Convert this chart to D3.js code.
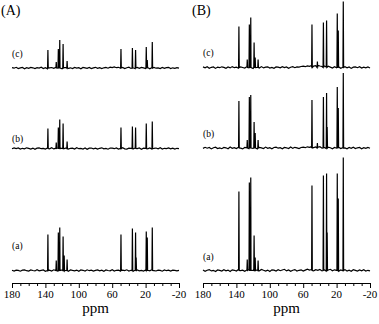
<!DOCTYPE html>
<html>
<head>
<meta charset="utf-8">
<script src="https://cdn.jsdelivr.net/npm/d3@7"></script>
<style>
  body { margin: 0; background: #fff; }
</style>
</head>
<body>
<div id="chart"></div>
<script>
// tick labels on the ppm axis
const ppmTicks = [180, 140, 100, 60, 20, -20];
const minorTicks = [180, 170, 160, 150, 140, 130, 120, 110, 100, 90, 80, 70, 60, 50, 40, 30, 20, 10, 0, -10, -20];

const panelNames = ["(A)", "(B)"];
const traceNames = ["(a)", "(b)", "(c)"];

// peak positions (ppm), shared by all traces
const peakPpm = [137, 127, 124.5, 122.8, 118.8, 117.5, 114, 49.5, 43, 35.8, 32, 31.3, 19.2, 18, 12];

// peak heights (arbitrary units), one array per trace
const peaksAa = [36, 10, 38, 43, 34, 15, 11, 36, 0, 42, 38, 13, 39, 33, 43];
const peaksAb = [20, 6, 21, 29, 25, 0, 7, 21, 0, 22, 21, 0, 25, 0, 27];
const peaksAc = [18, 6, 19, 28, 24, 0, 7, 19, 0, 20, 18, 0, 21, 8, 26];
const peaksBa = [79, 11, 88, 93, 35, 13, 10, 85, 0, 95, 97, 38, 97, 72, 113];
const peaksBb = [47, 8, 51, 53, 26, 15, 8, 48, 5, 51, 55, 21, 61, 40, 75];
const peaksBc = [41, 8, 43, 50, 25, 10, 8, 43, 6, 45, 47, 0, 54, 37, 66];

// baseline wiggle, sampled evenly from 180 to -20 ppm
const noiseAa = [0.2,-0.5,0.4,0.1,-0.7,0.3,0.6,-0.2,-0.6,0.5,0.0,-0.4,0.8,-0.3,0.2,0.5,-0.8,0.1,0.4,-0.5,
    0.7,-0.1,-0.6,0.3,0.5,-0.4,0.2,-0.7,0.6,0.1,-0.3,0.4,-0.8,0.5,0.2,-0.5,0.7,-0.2,0.3,-0.6,
    0.1,0.6,-0.4,0.3,-0.7,0.5,0.0,-0.3,0.8,-0.5,0.2,0.4,-0.6,0.3,-0.1,0.7,-0.5,0.2,-0.8,0.4,
    0.6,-0.3,0.1,-0.6,0.5,0.3,-0.4,0.7,-0.2,-0.5,0.4,0.1,-0.7,0.5,-0.2,0.3,-0.6,0.4,0.1,-0.3,0.2];
const noiseAb = [-0.3,0.5,-0.1,0.6,-0.6,0.2,-0.4,0.7,0.1,-0.5,0.4,-0.8,0.3,0.6,-0.2,0.1,-0.6,0.5,-0.3,0.8,
    -0.4,0.2,0.5,-0.7,0.3,-0.1,0.6,-0.5,0.2,0.4,-0.6,0.7,-0.2,0.1,-0.5,0.6,-0.8,0.3,0.5,-0.3,
    0.4,-0.6,0.2,0.7,-0.4,0.1,-0.7,0.5,0.3,-0.2,0.6,-0.5,0.1,0.8,-0.3,-0.6,0.4,0.2,-0.5,0.6,
    -0.1,0.5,-0.7,0.3,0.2,-0.4,0.6,-0.6,0.1,0.5,-0.3,0.7,-0.5,0.2,-0.1,0.6,-0.4,0.3,-0.6,0.2,-0.2];
const noiseAc = [0.4,-0.2,0.7,-0.5,0.1,0.5,-0.7,0.3,-0.3,0.6,0.2,-0.6,0.4,-0.1,0.8,-0.5,0.3,-0.8,0.2,0.5,
    -0.4,0.6,-0.2,0.1,-0.7,0.4,0.7,-0.3,0.2,-0.6,0.5,-0.1,0.3,-0.8,0.6,0.2,-0.4,0.5,-0.6,0.1,
    0.7,-0.3,0.4,-0.5,0.2,0.6,-0.2,0.9,0.4,1.0,0.3,0.7,-0.2,0.5,-0.6,0.3,0.8,-0.4,0.2,-0.7,
    0.5,-0.3,0.6,0.1,-0.5,0.4,-0.8,0.3,0.6,-0.2,0.1,-0.6,0.5,-0.4,0.3,0.7,-0.5,0.2,-0.3,0.4,-0.1];
const noiseBa = [0.5,-0.8,0.3,0.9,-0.4,0.2,-1.0,0.6,0.1,-0.5,0.8,-0.3,0.4,-0.9,0.7,0.2,-0.6,1.0,-0.2,0.3,
    -0.7,0.5,0.9,-0.4,0.1,-0.8,0.6,-0.3,1.1,0.2,-0.6,0.4,-0.9,0.7,0.3,-0.5,0.8,-0.2,0.5,1.2,
    -0.4,0.6,-0.8,0.3,0.9,-0.5,0.2,0.7,-0.6,0.4,1.3,0.5,1.0,-0.3,0.8,0.2,1.1,-0.4,0.9,-0.6,
    0.5,1.2,-0.3,0.7,0.2,-0.8,0.6,-0.2,0.9,-0.5,0.3,-0.7,0.8,0.1,-0.6,0.5,-0.3,0.7,-0.5,0.2,-0.4];
const noiseBb = [-0.4,0.7,-0.2,0.5,-0.9,0.3,0.8,-0.5,0.1,-0.7,0.6,0.2,-0.8,0.9,-0.3,0.4,-0.6,0.7,-0.1,-0.9,
    0.5,0.2,-0.6,0.8,-0.4,0.3,-1.0,0.6,0.1,-0.5,0.9,-0.3,0.4,-0.7,0.5,0.8,-0.2,0.3,-0.8,0.6,
    0.2,-0.5,1.0,-0.4,0.7,0.1,-0.6,0.5,0.9,0.3,1.2,0.6,1.4,0.4,1.0,0.8,1.3,-0.2,0.7,-0.5,
    0.9,0.3,-0.7,0.6,-0.2,0.8,-0.6,0.4,0.1,-0.8,0.5,-0.3,0.7,-0.5,0.2,0.6,-0.7,0.3,-0.4,0.5,-0.2];
const noiseBc = [0.6,-0.3,0.8,-0.7,0.2,0.5,-0.9,0.4,-0.2,0.7,0.1,-0.8,0.5,-0.4,0.9,-0.2,0.3,-0.7,0.6,0.0,
    -0.6,0.8,-0.3,0.4,-1.0,0.5,0.2,-0.6,0.9,-0.4,0.3,0.7,-0.5,0.1,-0.8,0.6,0.4,-0.3,0.8,-0.1,
    0.5,-0.7,0.3,0.9,-0.2,0.6,0.4,1.0,1.3,0.8,1.6,1.2,2.0,1.4,1.8,2.2,1.5,1.0,1.7,0.6,
    1.2,0.4,-0.5,0.8,-0.3,0.6,-0.8,0.2,0.7,-0.4,0.5,-0.9,0.3,0.6,-0.2,0.8,-0.6,0.4,-0.3,0.5,-0.5];

const width = 379, height = 324;
const serif = "DejaVu Serif";
const svg = d3.select("#chart").append("svg")
    .attr("width", width)
    .attr("height", height)
    .style("font-family", "'Liberation Serif', serif");

const axisY = 283;
const panels = [
    {name: panelNames[0], x0: 12, x1: 179, traces: [
        {name: traceNames[0], base: 270.5, peaks: peaksAa, noise: noiseAa, labelY: 249},
        {name: traceNames[1], base: 148.5, peaks: peaksAb, noise: noiseAb, labelY: 142},
        {name: traceNames[2], base: 68, peaks: peaksAc, noise: noiseAc, labelY: 57}]},
    {name: panelNames[1], x0: 203, x1: 370, traces: [
        {name: traceNames[0], base: 270.5, peaks: peaksBa, noise: noiseBa, labelY: 260},
        {name: traceNames[1], base: 148, peaks: peaksBb, noise: noiseBb, labelY: 137},
        {name: traceNames[2], base: 67.5, peaks: peaksBc, noise: noiseBc, labelY: 56}]}
];

panels.forEach(function (p) {
    const x = d3.scaleLinear().domain([180, -20]).range([p.x0, p.x1]);
    const g = svg.append("g");

    g.append("text")
        .attr("x", p.x0 - 11)
        .attr("y", 15)
        .attr("font-size", 14)
        .text(p.name);

    p.traces.forEach(function (t) {
        const y = d3.scaleLinear().domain([0, 100]).range([t.base, t.base - 100]);
        const n = t.noise.length;
        let pts = t.noise.map((v, i) => [180 - i * 200 / (n - 1), v]);
        peakPpm.forEach(function (pp, i) {
            if (t.peaks[i] > 0) {
                pts.push([pp + 0.4, 0], [pp, t.peaks[i]], [pp - 0.4, 0]);
            }
        });
        pts.sort((a, b) => b[0] - a[0]);

        g.append("path")
            .attr("fill", "none")
            .attr("stroke", "#000")
            .attr("stroke-width", 1.2)
            .attr("d", d3.line().x(d => x(d[0])).y(d => y(d[1]))(pts));

        g.append("text")
            .attr("x", p.x0)
            .attr("y", t.labelY)
            .attr("font-size", 9.5)
            .text(t.name);
    });

    // ppm axis
    const ax = g.append("g")
        .attr("transform", `translate(0,${axisY})`)
        .call(d3.axisBottom(x).tickValues(minorTicks).tickSize(3).tickSizeOuter(0).tickFormat(""));
    ax.select(".domain").attr("stroke", "#000");
    ax.selectAll(".tick line")
        .attr("stroke", "#000")
        .attr("y2", d => ppmTicks.includes(d) ? 5 : 3);

    g.selectAll(".ppmlabel")
        .data(ppmTicks)
        .enter()
        .append("text")
        .attr("x", d => x(d))
        .attr("y", axisY + 15)
        .attr("text-anchor", "middle")
        .attr("font-size", 11)
        .text(d => d);

    g.append("text")
        .attr("x", (p.x0 + p.x1) / 2)
        .attr("y", 313)
        .attr("text-anchor", "middle")
        .attr("font-size", 15)
        .text("ppm");
});
</script>
</body>
</html>
